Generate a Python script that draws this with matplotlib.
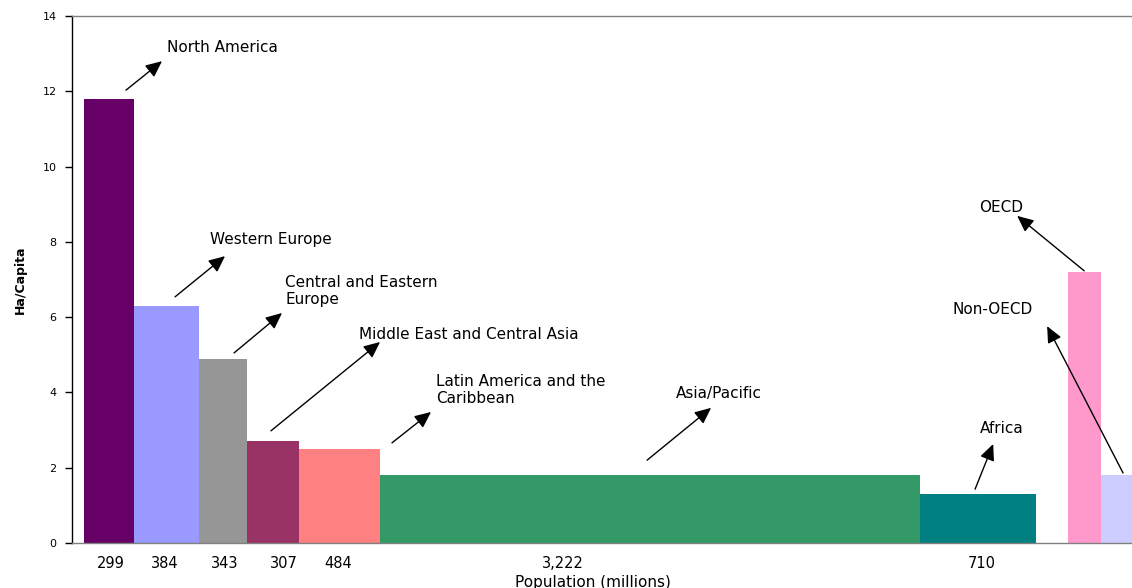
import matplotlib
matplotlib.use("Agg")
import matplotlib.pyplot as plt
import numpy as np

# ---------------- data ----------------
regions = ["North America", "Western Europe", "Central and Eastern Europe",
           "Middle East and Central Asia", "Latin America and the Caribbean",
           "Asia/Pacific", "Africa", "OECD", "Non-OECD"]
ha_per_capita = [11.8, 6.3, 4.9, 2.7, 2.5, 1.8, 1.3, 7.2, 1.8]
# bar widths as drawn (population, millions)
bar_widths = [299, 384, 292, 307, 484, 3222, 692, 197, 197]
population_labels = ["299", "384", "343", "307", "484", "3,222", "710"]
colors = ["#660066", "#9999FF", "#969696", "#993366", "#FF8080",
          "#339966", "#008080", "#FF99CC", "#CCCCFF"]

# ---------------- layout ----------------
GAP_BEFORE_OECD = 191
label_x = [161, 483, 841, 1193, 1515, 2858, 5358]
annotations = [
    # text, tail (x, y), tip (x, y), text anchor (x, y)
    ("North America", (250, 12.03), (465, 12.80), (495, 13.15)),
    ("Western Europe", (543, 6.54), (841, 7.62), (751, 8.05)),
    ("Central and Eastern\nEurope", (895, 5.05), (1181, 6.11), (1199, 6.69)),
    ("Middle East and Central Asia", (1115, 2.98), (1766, 5.34), (1640, 5.55)),
    ("Latin America and the\nCaribbean", (1837, 2.66), (2070, 3.48), (2100, 4.06)),
    ("Asia/Pacific", (3359, 2.20), (3741, 3.59), (3532, 3.98)),
    ("Africa", (5316, 1.43), (5424, 2.63), (5346, 3.03)),
    ("OECD", (5967, 7.23), (5567, 8.69), (5340, 8.90)),
    ("Non-OECD", (6199, 1.86), (5746, 5.76), (5179, 6.19)),
]

W, H = 1132, 588
fig = plt.figure(figsize=(W / 100, H / 100), dpi=100)
ax_l, ax_r, ax_t, ax_b = 72, 1140, 16, 543
ax = fig.add_axes([ax_l / W, 1 - ax_b / H, (ax_r - ax_l) / W, (ax_b - ax_t) / H])

# bar positions
lefts = []
pos = 0
for i, w in enumerate(bar_widths):
    if i == 7:
        pos += GAP_BEFORE_OECD
    lefts.append(pos)
    pos += w

ax.bar(lefts, ha_per_capita, width=bar_widths, align="edge",
       color=colors, linewidth=0, zorder=2)

ax.set_xlim(-72, 6300)
ax.set_ylim(0, 14)
ax.set_yticks(np.arange(0, 15, 2))
ax.tick_params(axis="y", direction="out", length=5, width=1, pad=6,
               labelsize=8, colors="black")
ax.set_xticks(label_x)
ax.set_xticklabels(population_labels)
ax.tick_params(axis="x", length=0, pad=9, labelsize=10.5)

for s in ["top", "bottom"]:
    ax.spines[s].set_color("#808080")
    ax.spines[s].set_linewidth(1)
ax.spines["left"].set_color("black")
ax.spines["left"].set_linewidth(1)
ax.spines["right"].set_visible(False)

ax.set_xlabel("Population (millions)", fontsize=11)
ax.xaxis.set_label_coords((593 - ax_l) / (ax_r - ax_l), -(582 - ax_b) / (ax_b - ax_t))
ax.xaxis.label.set_va("center")
ax.set_ylabel("Ha/Capita", fontsize=9, fontweight="bold")
ax.yaxis.set_label_coords((20 - ax_l) / (ax_r - ax_l), 0.5)
ax.yaxis.label.set_va("center")

for text, tail, tip, txy in annotations:
    ax.annotate("", xy=tip, xytext=tail,
                arrowprops=dict(arrowstyle="-|>,head_length=0.55,head_width=0.25",
                                mutation_scale=18, color="black", lw=1,
                                shrinkA=0, shrinkB=0), zorder=5)
    ax.text(txy[0], txy[1], text, fontsize=11, ha="left", va="center",
            linespacing=1.2, zorder=5)

fig.savefig("out.png", dpi=100)
